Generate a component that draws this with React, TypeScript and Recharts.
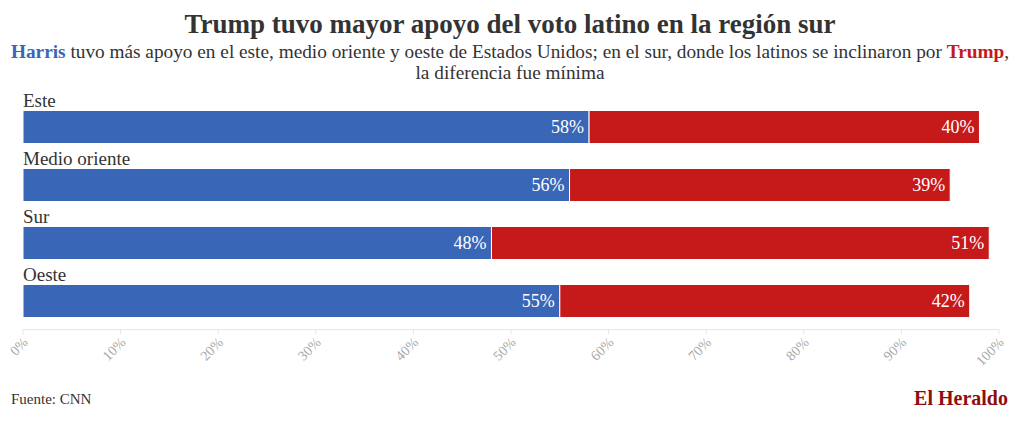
import { BarChart, Bar, XAxis, YAxis, LabelList } from 'recharts';

const regions = ['Este', 'Medio oriente', 'Sur', 'Oeste'];
const harris = [58, 56, 48, 55];
const trump = [40, 39, 51, 42];
const ticks = [0, 10, 20, 30, 40, 50, 60, 70, 80, 90, 100];

const data = regions.map((r, i) => ({ region: r, harris: harris[i], trump: trump[i] }));

const FONT = '"Liberation Serif", serif';
const BLUE = '#3a66b7';
const RED = '#c6191a';

// nombre de la región encima de cada barra
const RegionLabel = (props: any) => {
  const { x, y, value } = props;
  return (
    <text x={x} y={y - 4} fill='#333' fontSize={19} fontFamily={FONT} textAnchor='start'>
      {value}
    </text>
  );
};

const PctTick = (props: any) => {
  const { x, y, payload } = props;
  return (
    <g transform={`translate(${x + 3},${y + 4})`}>
      <text transform='rotate(-45)' textAnchor='end' fill='#a8a8a8' fontSize={14} fontFamily={FONT} dy={4}>
        {payload.value}%
      </text>
    </g>
  );
};

const App = () => {
  return (
    <div style={{ position: 'relative', width: 1004, height: 408, fontFamily: FONT, color: '#333' }}>
      <div style={{ position: 'absolute', top: 1, left: 0, width: 1004, textAlign: 'center', fontSize: 27, fontWeight: 'bold' }}>
        Trump tuvo mayor apoyo del voto latino en la región sur
      </div>
      <div style={{ position: 'absolute', top: 33, left: 0, width: 1004, textAlign: 'center', fontSize: 19.3, lineHeight: '21px' }}>
        <b style={{ color: BLUE }}>Harris</b> tuvo más apoyo en el este, medio oriente y oeste de Estados Unidos; en el sur, donde los latinos se inclinaron por{' '}
        <b style={{ color: RED }}>Trump</b>,<br />la diferencia fue mínima
      </div>
      <div style={{ position: 'absolute', top: 0, left: 0 }}>
        <BarChart
          width={1004}
          height={380}
          data={data}
          layout='vertical'
          margin={{ top: 89.5, right: 13, bottom: 18.5, left: 15 }}
          barSize={33}
        >
          <XAxis
            type='number'
            domain={[0, 100]}
            ticks={ticks}
            height={40}
            stroke='#e6e6e6'
            tickSize={5}
            tick={<PctTick />}
            interval={0}
          />
          <YAxis type='category' dataKey='region' hide />
          <Bar dataKey='harris' stackId='a' fill={BLUE} stroke='#fff' strokeWidth={1} isAnimationActive={false}>
            <LabelList dataKey='harris' position='insideRight' offset={5} fill='#fff' fontSize={18} fontFamily={FONT} formatter={(v: any) => `${v}%`} />
            <LabelList dataKey='region' content={<RegionLabel />} />
          </Bar>
          <Bar dataKey='trump' stackId='a' fill={RED} stroke='#fff' strokeWidth={1} isAnimationActive={false}>
            <LabelList dataKey='trump' position='insideRight' offset={5} fill='#fff' fontSize={18} fontFamily={FONT} formatter={(v: any) => `${v}%`} />
          </Bar>
        </BarChart>
      </div>
      <div style={{ position: 'absolute', top: 383, left: 3, fontSize: 15 }}>Fuente: CNN</div>
      <div style={{ position: 'absolute', top: 379, right: 4, fontSize: 20, fontWeight: 'bold', color: '#8f0d0d' }}>El Heraldo</div>
    </div>
  );
};

export default App;
